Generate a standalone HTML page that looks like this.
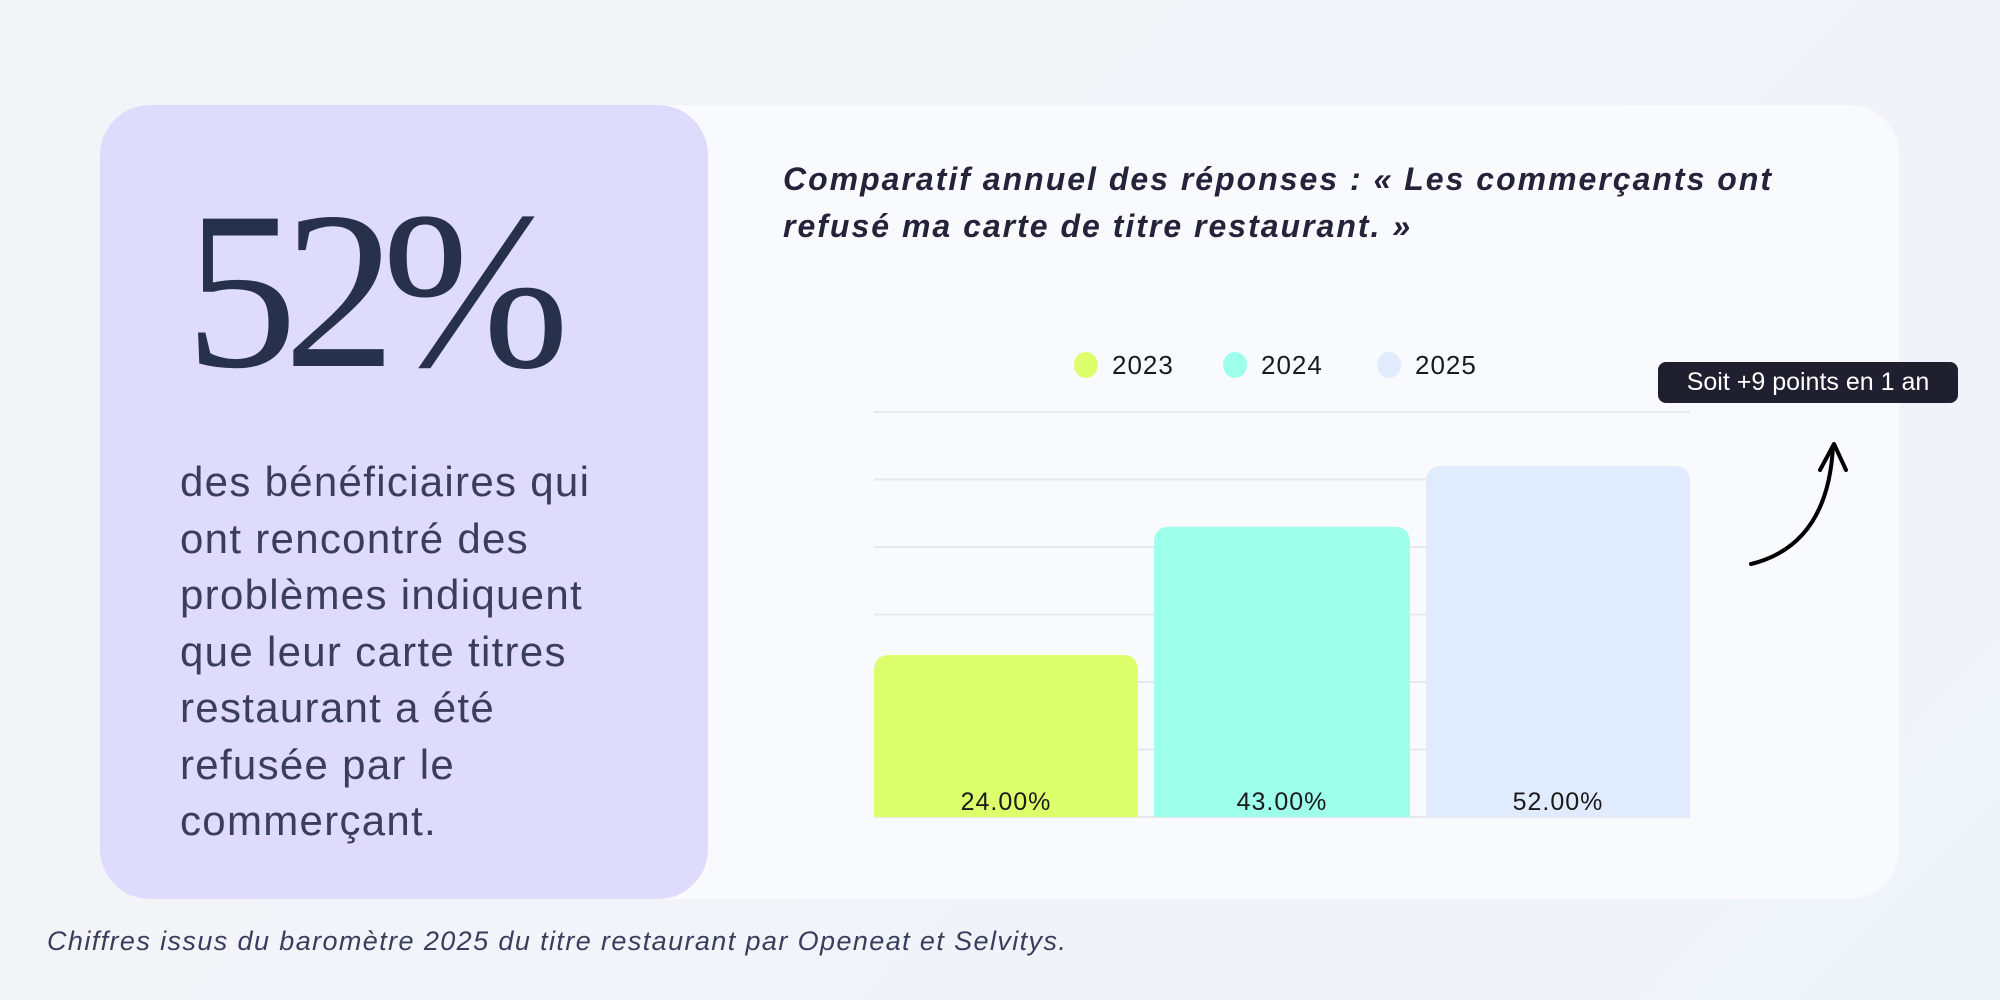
<!DOCTYPE html>
<html><head><meta charset="utf-8"><style>
body{margin:0;width:2000px;height:1000px;overflow:hidden;background:linear-gradient(135deg,#f3f4f7,#eff4fb);font-family:"Liberation Sans",sans-serif;position:relative}
.card{position:absolute;left:100px;top:105px;width:1799px;height:794px;background:#f8fafd;border-radius:50px}
.panel{position:absolute;left:100px;top:105px;width:608px;height:794px;background:#dfdbfd;border-radius:50px}
.big{position:absolute;left:185px;top:140px;font-family:"Liberation Serif",serif;font-size:225px;color:#27314b;line-height:300px;letter-spacing:-14px}
.desc{position:absolute;left:180px;top:454px;width:560px;font-size:42px;line-height:56.5px;color:#3a3d5c;letter-spacing:1.3px;white-space:nowrap}
.title{position:absolute;left:783px;top:156px;width:1150px;font-size:32px;font-weight:bold;font-style:italic;color:#23243a;line-height:47px;letter-spacing:2px;white-space:nowrap}
.foot{position:absolute;left:47px;top:926px;font-size:27px;font-style:italic;color:#3a3d5c;letter-spacing:1.4px}
</style></head><body>
<div class="card"></div>
<div class="panel"></div>
<div class="big">52%</div>
<div class="desc">des bénéficiaires qui<br>ont rencontré des<br>problèmes indiquent<br>que leur carte titres<br>restaurant a été<br>refusée par le<br>commerçant.</div>
<div class="title">Comparatif annuel des réponses : « Les commerçants ont<br>refusé ma carte de titre restaurant. »</div>
<div class="foot">Chiffres issus du baromètre 2025 du titre restaurant par Openeat et Selvitys.</div>
<svg id="chart" width="2000" height="1000" style="position:absolute;left:0;top:0"></svg>
<script>
const categories=["2023","2024","2025"];
const values=[24,43,52];
const labels=["24.00%","43.00%","52.00%"];
const colors=["#ddff6b","#9effeb","#e0ebfd"];
const gridTicks=[0,10,20,30,40,50,60];
const svg=document.getElementById('chart');
const NS="http://www.w3.org/2000/svg";
const x0=874,x1=1690,yb=817,yt=412,vmax=60;
const y=v=>yb-(v/vmax)*(yb-yt);
const band=(x1-x0)/categories.length;
function mk(t,a){const e=document.createElementNS(NS,t);for(const k in a)e.setAttribute(k,a[k]);svg.appendChild(e);return e;}
gridTicks.forEach(t=>{const l=mk('line',{x1:x0,x2:x1,y1:y(t),y2:y(t),stroke:'#e6e8ee','stroke-width':2});

});
categories.forEach((c,i)=>{
const bx=x0+i*band+(i==0?0:8),bw=band-(i==1?16:8),top=y(values[i]),h=yb-top,r=16;
const p=mk('path',{d:`M${bx},${yb}V${top+r}Q${bx},${top} ${bx+r},${top}H${bx+bw-r}Q${bx+bw},${top} ${bx+bw},${top+r}V${yb}Z`,fill:colors[i]});


const t=mk('text',{x:bx+bw/2,y:yb-7,'text-anchor':'middle','font-size':25,'letter-spacing':1,fill:'#1a1a1a','font-family':'Liberation Sans'});t.textContent=labels[i];


const lx=[1086,1235,1389][i];
const ci=mk('ellipse',{cx:lx,cy:365,rx:12,ry:13,fill:colors[i]});


const lt=mk('text',{x:lx+26,y:374,'font-size':26,'letter-spacing':1,fill:'#1a1a1a','font-family':'Liberation Sans'});lt.textContent=c;


});
</script>
<div style="position:absolute;left:1658px;top:362px;width:300px;height:41px;background:#1f1f30;border-radius:8px;color:#fff;font-size:25px;line-height:41px;text-align:center">Soit +9 points en 1 an</div>
<svg width="2000" height="1000" style="position:absolute;left:0;top:0">
<path d="M1751,564 Q1828,545 1833,446" fill="none" stroke="#000" stroke-width="4" stroke-linecap="round"/>
<path d="M1820,470 L1834,444 L1846,470" fill="none" stroke="#000" stroke-width="4" stroke-linecap="round" stroke-linejoin="round"/>
</svg>
</body></html>
